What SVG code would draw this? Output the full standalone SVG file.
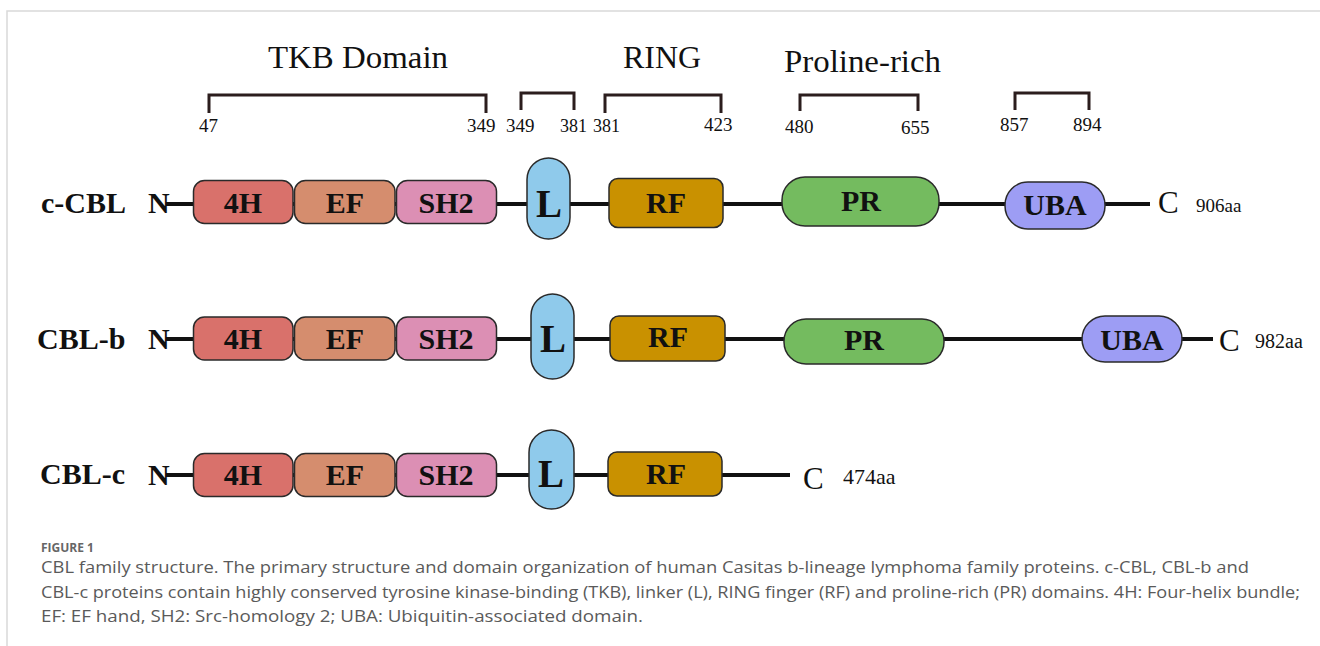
<svg xmlns="http://www.w3.org/2000/svg" width="1320" height="646" viewBox="0 0 1320 646">
<style>
.frame{fill:none;stroke:#d9d9d9;stroke-width:1.5}
.br{fill:none;stroke:#2b1d1d;stroke-width:3}
.t{font-family:"Liberation Serif","Times New Roman",serif;fill:#111}
.hd{font-size:32px}
.num{font-size:19px}
.name{font-size:30px;font-weight:bold}
.lbl{font-size:30px;font-weight:bold;text-anchor:middle}
.bigL{font-size:39px;font-weight:bold;text-anchor:middle}
.cterm{font-size:31px}
.bb{stroke:#2a2a2a;stroke-width:1.5}
.h4{fill:#d9716b}.ef{fill:#d58d6e}.sh2{fill:#dc8fb4}.L{fill:#8fcaeb}.rf{fill:#c99100}.pr{fill:#74bb5f}.uba{fill:#9d9df4}
.bb2{fill:none;stroke:#111;stroke-width:4}
.cap{font-family:"Open Sans","Noto Sans","Liberation Sans",sans-serif;fill:#5a5a5a;font-size:16px}
.fig{font-family:"Open Sans","Noto Sans","Liberation Sans",sans-serif;fill:#666;font-size:12px;font-weight:bold}
</style>
<rect width="1320" height="646" fill="#fff"/>
<path class="frame" d="M7,646 V11 H1320"/>

<g id="header">
<text class="t hd" x="268" y="68" textLength="180" lengthAdjust="spacingAndGlyphs">TKB Domain</text>
<text class="t hd" x="623" y="68">RING</text>
<text class="t hd" x="784" y="72" textLength="157" lengthAdjust="spacingAndGlyphs">Proline-rich</text>
<path class="br" d="M209,113 V95 H486 V113"/>
<path class="br" d="M521,110 V93 H574 V110"/>
<path class="br" d="M605,113 V95 H721 V113"/>
<path class="br" d="M800,111 V95 H918 V111"/>
<path class="br" d="M1015,110 V93 H1089 V110"/>
<text class="t num" x="199" y="132">47</text>
<text class="t num" x="467" y="132">349</text>
<text class="t num" x="506" y="132">349</text>
<text class="t num" x="560" y="132" textLength="27" lengthAdjust="spacingAndGlyphs">381</text>
<text class="t num" x="593" y="132" textLength="27" lengthAdjust="spacingAndGlyphs">381</text>
<text class="t num" x="704" y="131">423</text>
<text class="t num" x="785" y="133">480</text>
<text class="t num" x="901" y="134">655</text>
<text class="t num" x="1000" y="131">857</text>
<text class="t num" x="1073" y="131">894</text>
</g>

<g id="connectors">
<line class="bb2" x1="166" y1="204" x2="1150" y2="204"/>
<line class="bb2" x1="166" y1="339" x2="1213" y2="339"/>
<line class="bb2" x1="166" y1="475" x2="790" y2="475"/>
</g>

<g id="c-CBL">
<text class="t name" x="41" y="213">c-CBL</text>
<text class="t name" x="148" y="213">N</text>
<rect class="bb h4" x="193.5" y="180.5" width="99.5" height="43" rx="11"/>
<rect class="bb ef" x="294.5" y="180.5" width="100.5" height="43" rx="11"/>
<rect class="bb sh2" x="396.5" y="180.5" width="100" height="43" rx="11"/>
<rect class="bb L" x="527" y="158" width="43" height="81" rx="21.5"/>
<rect class="bb rf" x="609" y="178.5" width="114" height="49" rx="9"/>
<rect class="bb pr" x="782" y="177" width="157" height="49" rx="23"/>
<rect class="bb uba" x="1005" y="182" width="100" height="47" rx="23"/>
<text class="t lbl" x="243" y="213">4H</text>
<text class="t lbl" x="345" y="213">EF</text>
<text class="t lbl" x="446" y="213">SH2</text>
<text class="t bigL" x="549" y="217">L</text>
<text class="t lbl" x="666" y="213">RF</text>
<text class="t lbl" x="861" y="211">PR</text>
<text class="t lbl" x="1055" y="215">UBA</text>
<text class="t cterm" x="1158" y="213">C</text>
<text class="t" style="font-size:19px" x="1196" y="212">906aa</text>
</g>

<g id="CBL-b">
<text class="t name" x="37" y="349">CBL-b</text>
<text class="t name" x="148" y="349">N</text>
<rect class="bb h4" x="193.5" y="317" width="99.5" height="43" rx="11"/>
<rect class="bb ef" x="294.5" y="317" width="100.5" height="43" rx="11"/>
<rect class="bb sh2" x="396.5" y="317" width="100" height="43" rx="11"/>
<rect class="bb L" x="531" y="294" width="43" height="85" rx="21.5"/>
<rect class="bb rf" x="610" y="316" width="115" height="45" rx="9"/>
<rect class="bb pr" x="784" y="319" width="160" height="45" rx="22"/>
<rect class="bb uba" x="1082" y="316" width="100" height="46" rx="23"/>
<text class="t lbl" x="243" y="349">4H</text>
<text class="t lbl" x="345" y="349">EF</text>
<text class="t lbl" x="446" y="349">SH2</text>
<text class="t bigL" x="553" y="352">L</text>
<text class="t lbl" x="668" y="347">RF</text>
<text class="t lbl" x="864" y="350">PR</text>
<text class="t lbl" x="1132" y="350">UBA</text>
<text class="t cterm" x="1219" y="351">C</text>
<text class="t" style="font-size:20px" x="1255" y="348">982aa</text>
</g>

<g id="CBL-c">
<text class="t name" x="40" y="484">CBL-c</text>
<text class="t name" x="148" y="485">N</text>
<rect class="bb h4" x="193.5" y="453.5" width="99.5" height="43" rx="11"/>
<rect class="bb ef" x="294.5" y="453.5" width="100.5" height="43" rx="11"/>
<rect class="bb sh2" x="396.5" y="453.5" width="100" height="43" rx="11"/>
<rect class="bb L" x="529" y="430" width="45" height="79" rx="22.5"/>
<rect class="bb rf" x="608" y="452" width="114" height="44" rx="9"/>
<text class="t lbl" x="243" y="485">4H</text>
<text class="t lbl" x="345" y="485">EF</text>
<text class="t lbl" x="446" y="485">SH2</text>
<text class="t bigL" x="551" y="487">L</text>
<text class="t lbl" x="666" y="484">RF</text>
<text class="t cterm" x="803" y="489">C</text>
<text class="t" style="font-size:22px" x="843" y="484">474aa</text>
</g>

<g id="caption">
<text class="fig" x="41" y="552">FIGURE 1</text>
<text class="cap" x="41" y="573" textLength="1208" lengthAdjust="spacingAndGlyphs">CBL family structure. The primary structure and domain organization of human Casitas b-lineage lymphoma family proteins. c-CBL, CBL-b and</text>
<text class="cap" x="41" y="598" textLength="1259" lengthAdjust="spacingAndGlyphs">CBL-c proteins contain highly conserved tyrosine kinase-binding (TKB), linker (L), RING finger (RF) and proline-rich (PR) domains. 4H: Four-helix bundle;</text>
<text class="cap" x="41" y="622" textLength="602" lengthAdjust="spacingAndGlyphs">EF: EF hand, SH2: Src-homology 2; UBA: Ubiquitin-associated domain.</text>
</g>
</svg>
